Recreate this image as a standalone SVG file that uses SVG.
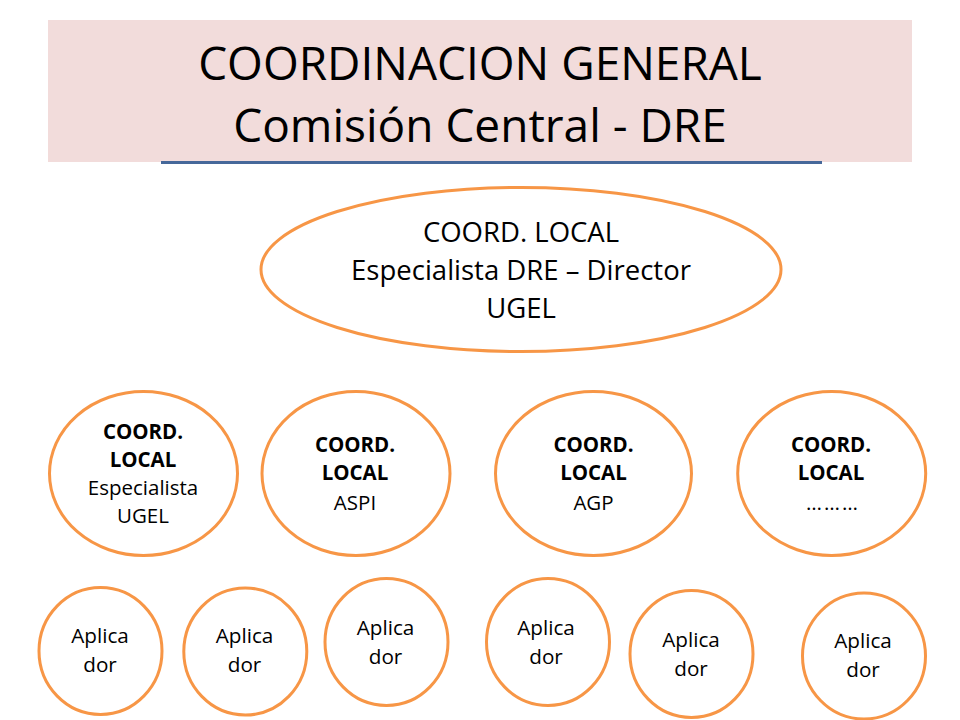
<svg xmlns="http://www.w3.org/2000/svg" width="960" height="720" viewBox="0 0 960 720">
<style>
  text { font-family: "Open Sans", "Liberation Sans", sans-serif; fill: #000; text-anchor: middle; }
  .node { fill: #fff; stroke: #F79646; stroke-width: 3; }
  .title { font-size: 46px; }
  .top { font-size: 27.5px; }
  .mid { font-size: 20.5px; }
  .b { font-weight: bold; }
  .app { font-size: 20.7px; }
</style>
<rect width="960" height="720" fill="#fff"/>
<g id="header">
  <rect x="48" y="20" width="864" height="142" fill="#F2DCDB"/>
  <line x1="161" y1="162.5" x2="822" y2="162.5" stroke="#46689A" stroke-width="3"/>
  <text class="title" x="480" y="80">COORDINACION GENERAL</text>
  <text class="title" x="480" y="142">Comisión Central - DRE</text>
</g>
<g id="connectors"></g>
<g id="coord-local-top">
  <ellipse class="node" cx="521" cy="269.5" rx="260" ry="82"/>
  <text class="top" x="521" y="242">COORD. LOCAL</text>
  <text class="top" x="521" y="280">Especialista DRE – Director</text>
  <text class="top" x="521" y="318">UGEL</text>
</g>
<g id="coord-ugel">
  <ellipse class="node" cx="143.5" cy="473.5" rx="94" ry="82"/>
  <text class="mid b" x="143" y="439">COORD.</text>
  <text class="mid b" x="143" y="467">LOCAL</text>
  <text class="mid" x="143" y="495">Especialista</text>
  <text class="mid" x="143" y="523">UGEL</text>
</g>
<g id="coord-aspi">
  <ellipse class="node" cx="356" cy="473.5" rx="94" ry="82"/>
  <text class="mid b" x="355" y="451.5">COORD.</text>
  <text class="mid b" x="355" y="480">LOCAL</text>
  <text class="mid" x="355" y="509.5">ASPI</text>
</g>
<g id="coord-agp">
  <ellipse class="node" cx="593.5" cy="473.5" rx="98" ry="82"/>
  <text class="mid b" x="593.5" y="451.5">COORD.</text>
  <text class="mid b" x="593.5" y="480">LOCAL</text>
  <text class="mid" x="593.5" y="509.5">AGP</text>
</g>
<g id="coord-etc">
  <ellipse class="node" cx="831.7" cy="473.5" rx="94" ry="82"/>
  <text class="mid b" x="831" y="451.5">COORD.</text>
  <text class="mid b" x="831" y="480">LOCAL</text>
  <text class="mid" x="833" y="509.5" letter-spacing="2">………</text>
</g>
<g id="aplicador-1">
  <ellipse class="node" cx="100.5" cy="651" rx="61.5" ry="63.5"/>
  <text class="app" x="100" y="643">Aplica</text>
  <text class="app" x="100" y="672">dor</text>
</g>
<g id="aplicador-2">
  <ellipse class="node" cx="245.3" cy="651.5" rx="61.5" ry="63.5"/>
  <text class="app" x="244.5" y="643">Aplica</text>
  <text class="app" x="244.5" y="672">dor</text>
</g>
<g id="aplicador-3">
  <ellipse class="node" cx="386.5" cy="642" rx="61.5" ry="63.5"/>
  <text class="app" x="385.5" y="635">Aplica</text>
  <text class="app" x="385.5" y="664">dor</text>
</g>
<g id="aplicador-4">
  <ellipse class="node" cx="548" cy="642" rx="61.5" ry="63.5"/>
  <text class="app" x="546" y="635">Aplica</text>
  <text class="app" x="546" y="664">dor</text>
</g>
<g id="aplicador-5">
  <ellipse class="node" cx="691.5" cy="654" rx="61.5" ry="63.5"/>
  <text class="app" x="691" y="647">Aplica</text>
  <text class="app" x="691" y="676">dor</text>
</g>
<g id="aplicador-6">
  <ellipse class="node" cx="864" cy="656" rx="61.5" ry="63"/>
  <text class="app" x="863" y="648">Aplica</text>
  <text class="app" x="863" y="677">dor</text>
</g>
</svg>
